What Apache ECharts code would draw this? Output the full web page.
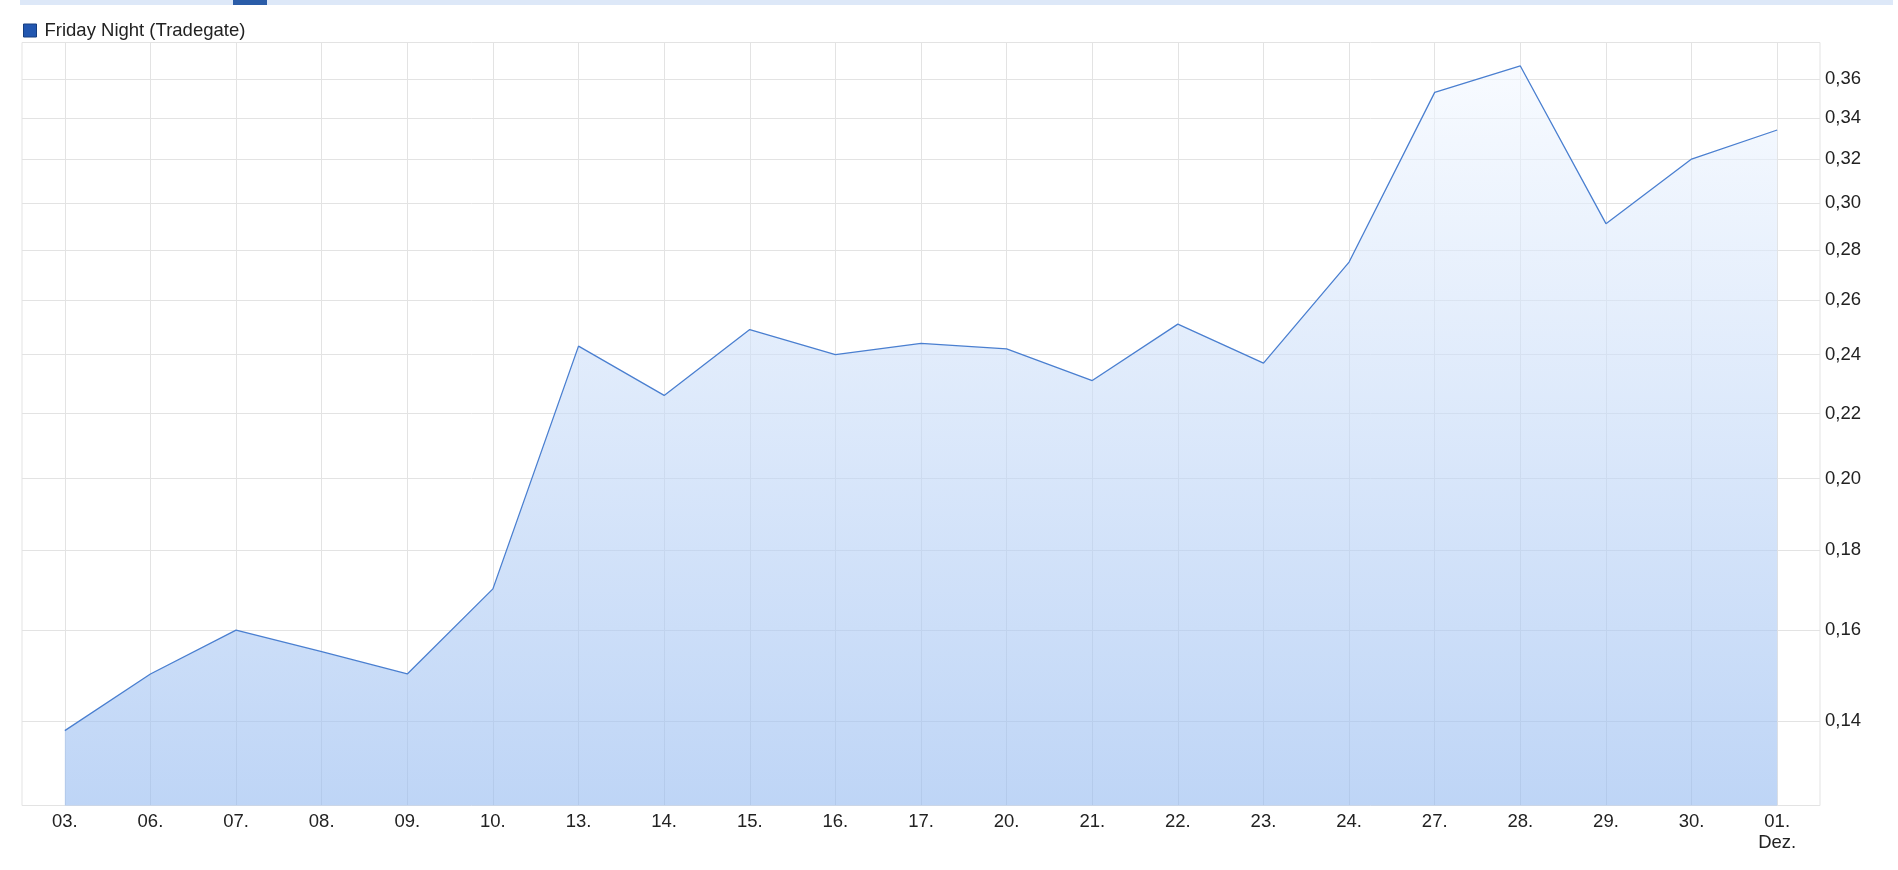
<!DOCTYPE html>
<html>
<head>
<meta charset="utf-8">
<script src="https://cdn.jsdelivr.net/npm/echarts@6/dist/echarts.min.js"></script>
<style>
html,body{margin:0;padding:0;background:#fff;}
#chart{width:1898px;height:870px;}
</style>
</head>
<body>
<div id="chart"></div>
<script>
const seriesName = 'Friday Night (Tradegate)';
const categories = ['03.','06.','07.','08.','09.','10.','13.','14.','15.','16.','17.','20.','21.','22.','23.','24.','27.','28.','29.','30.','01.\nDez.'];
const prices = [0.138,0.150,0.160,0.155,0.150,0.170,0.243,0.226,0.249,0.240,0.244,0.242,0.231,0.251,0.237,0.275,0.353,0.367,0.291,0.320,0.334];
const yTicks = [0.14,0.16,0.18,0.20,0.22,0.24,0.26,0.28,0.30,0.32,0.34,0.36];
const yMin = 0.1236, yMax = 0.3799;

const FONT = 'Liberation Sans, Arial, sans-serif';
const chart = echarts.init(document.getElementById('chart'));
chart.setOption({
  animation: false,
  backgroundColor: '#ffffff',
  textStyle: {fontFamily: FONT},
  graphic: [
    {type:'rect', left:20, top:0, shape:{width:1873, height:5}, style:{fill:'#dde8f8'}, silent:true},
    {type:'rect', left:233, top:0, shape:{width:34, height:5}, style:{fill:'#2a5ca8'}, silent:true}
  ],
  legend: {
    left: 23, top: 21, padding: 0,
    icon: 'rect', itemWidth: 13, itemHeight: 13, itemGap: 10,
    textStyle: {fontSize: 18.5, color: '#222', fontFamily: FONT, padding: [0, 0, 0, 3]},
    data: [{name: seriesName, itemStyle: {color: '#2257b0', borderColor: '#163e80', borderWidth: 1}}]
  },
  grid: {left: 22, right: 78, top: 42.5, bottom: 64.5, containLabel: false, show: true, borderColor: '#e3e3e3', borderWidth: 1, backgroundColor: 'transparent'},
  xAxis: {
    type: 'category',
    data: categories,
    boundaryGap: true,
    axisLine: {show: false},
    axisTick: {show: false, alignWithLabel: true},
    splitLine: {show: true, alignWithLabel: true, lineStyle: {color: '#e3e3e3', width: 1}},
    axisLabel: {fontSize: 18.5, color: '#222', margin: 6, lineHeight: 21, interval: 0, fontFamily: FONT}
  },
  yAxis: {
    type: 'log',
    position: 'right',
    min: yMin, max: yMax,
    axisLine: {show: false},
    axisTick: {show: false, customValues: yTicks},
    splitLine: {show: true, lineStyle: {color: '#e3e3e3', width: 1}},
    axisLabel: {
      customValues: yTicks,
      fontSize: 18.5, color: '#222', margin: 5,
      fontFamily: FONT,
      formatter: v => v.toFixed(2).replace('.', ',')
    }
  },
  series: [{
    name: seriesName,
    type: 'line',
    data: prices,
    symbol: 'none',
    z: 3,
    lineStyle: {color: '#4a7fd0', width: 1.3},
    itemStyle: {color: '#4a7fd0'},
    areaStyle: {
      origin: 'start',
      opacity: 1,
      color: new echarts.graphic.LinearGradient(0, 0, 0, 1, [
        {offset: 0, color: 'rgba(243,248,255,0.6)'},
        {offset: 1, color: 'rgba(147,185,240,0.6)'}
      ])
    }
  }]
});
</script>
</body>
</html>
